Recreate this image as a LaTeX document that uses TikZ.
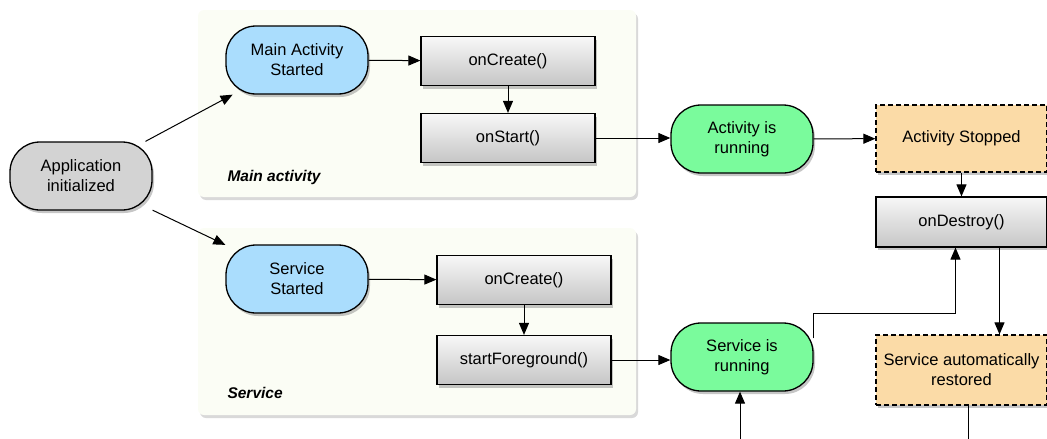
\documentclass[tikz,border=0pt]{standalone}
\usepackage{fontspec}
\setmainfont{Liberation Sans}
\usetikzlibrary{arrows.meta,shadows}
\definecolor{panelfill}{HTML}{FBFDF5}
\definecolor{startblue}{HTML}{AADDFD}
\definecolor{rungreen}{HTML}{7AFB9C}
\definecolor{stoppeach}{HTML}{FBDBA7}
\definecolor{initgray}{HTML}{D3D3D3}
\tikzset{
  nodeshadow/.style={drop shadow={shadow xshift=2pt, shadow yshift=-3pt, opacity=.45}},
  state/.style={draw, line width=1.3pt, rounded corners=30pt, minimum width=142pt,
    minimum height=68pt, align=center, font=\fontsize{16.5}{20}\selectfont, nodeshadow},
  callback/.style={draw, line width=1.2pt, top color=gray!6, bottom color=gray!45,
    minimum width=174pt, minimum height=49pt, font=\fontsize{16.5}{20}\selectfont, nodeshadow},
  event/.style={draw, dash pattern=on 5pt off 3pt, line width=1.2pt, fill=stoppeach,
    minimum width=171pt, align=center, font=\fontsize{16.5}{20}\selectfont, nodeshadow},
  panel/.style={fill=panelfill, rounded corners=6pt,
    drop shadow={shadow xshift=2pt, shadow yshift=-3pt, opacity=.3}},
  panellabel/.style={anchor=west, font=\bfseries\itshape\fontsize{15.5}{18}\selectfont},
  flow/.style={-{Triangle[length=12pt,width=10pt]}, line width=1pt},
}
\begin{document}
\begin{tikzpicture}[x=1pt, y=-1pt]
    \useasboundingbox (0,0) rectangle (1047,439);

    % Panels
    \path[panel] (198,10) rectangle (636,197);
    \node[panellabel] (mainlbl) at (224,177) {Main activity};
    \path[panel] (198,228) rectangle (636,415);
    \node[panellabel] (servlbl) at (224,393) {Service};

    % Start
    \node[state, fill=initgray] (appinit) at (81,176) {Application\\initialized};

    % Main activity
    \node[state, fill=startblue] (mainstart) at (297,60) {Main Activity\\Started};
    \node[callback] (maincreate) at (508,61) {onCreate()};
    \node[callback] (mainstartcb) at (508,138) {onStart()};
    \node[state, fill=rungreen] (actrun) at (742,139) {Activity is\\running};

    % Service
    \node[state, fill=startblue] (servstart) at (297,279) {Service\\Started};
    \node[callback] (servcreate) at (524,280) {onCreate()};
    \node[callback] (servfg) at (524,360) {startForeground()};
    \node[state, fill=rungreen] (servrun) at (742,357) {Service is\\running};

    % Right column
    \node[event, minimum height=67pt] (actstop) at (961.5,138.5) {Activity Stopped};
    \node[callback, minimum width=171pt, minimum height=50pt] (ondestroy) at (961.5,222) {onDestroy()};
    \node[event, minimum height=70pt] (servback) at (961.5,370) {Service automatically\\restored};

    % Free ends below the picture
    \coordinate (servin) at (740,439);
    \coordinate (servout) at (968,439);

    % Connectors
    \draw[flow] (appinit) -- (mainstart);
    \draw[flow] (appinit) -- (servstart);
    \draw[flow] (mainstart) -- (maincreate);
    \draw[flow] (maincreate) -- (mainstartcb);
    \draw[flow] (mainstartcb.east) -- (mainstartcb.east -| actrun.west);
    \draw[flow] (actrun) -- (actstop);
    \draw[flow] (actstop) -- (ondestroy);
    \draw[flow] ([xshift=38pt]ondestroy.south) -- ([xshift=38pt]ondestroy.south |- servback.north);
    \draw[flow] (servstart) -- (servcreate);
    \draw[flow] (servcreate) -- (servfg);
    \draw[flow] (servfg.east) -- (servfg.east -| servrun.west);
    \draw[flow] ([yshift=-16pt]servrun.north east) -- ++(0,-25) -| ([xshift=-6pt]ondestroy.south);
    \draw[flow] (servin) -- (servin |- servrun.south);
    \draw[line width=1pt] (servback.south -| servout) -- (servout);
\end{tikzpicture}
\end{document}
